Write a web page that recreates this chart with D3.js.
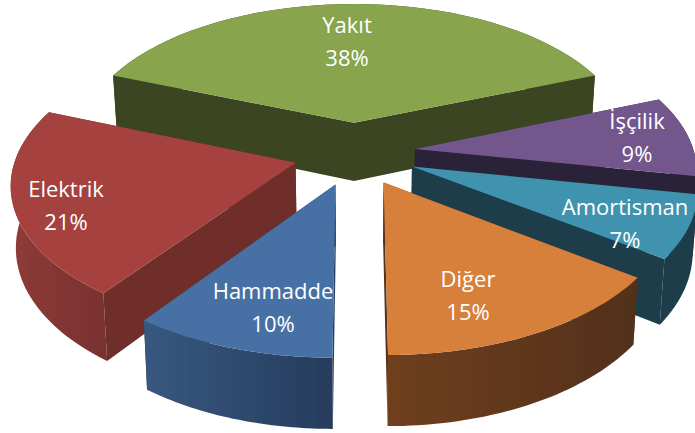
<!DOCTYPE html>
<html><head><meta charset="utf-8">
<style>html,body{margin:0;padding:0;background:#fff;overflow:hidden}svg{display:block}</style>
<script src="https://cdn.jsdelivr.net/npm/d3@7/dist/d3.min.js"></script>
</head><body><div id="chart"></div>
<script>
const categories = ["Yakıt","İşçilik","Amortisman","Diğer","Hammadde","Elektrik"];
const values = [38,9,7,15,10,21];
const topColors = ["#88a44d","#72568c","#3f93ae","#d7803a","#4671a5","#a5423f"];
const edgeColors = ["#3a4420","#2c2037","#1a3c49","#56331a","#2a4163","#6f2e2c"];
const rimStart = ["#3a4420","#2c2037","#1a3c49","#6f3f1f","#38587f","#8e3b38"];
const rimEnd = ["#3a4420","#2c2037","#1a3c49","#52301a","#253c5d","#79322f"];
const drawOrder = [0,1,2,5,3,4];
const labelAnchors = [[347,25],[637,121],[625,207],[468,279],[273,291],[66,189]];
const sliceNudge = [[-1,-1],[-1,-2],[0,0],[0,0],[0,0],[0,0]];

const W=695,H=433,cx=355,cy=154,explode=0.22,persp=0.131,drop=60,bottomShrink=0.985;
const xs=d3.scaleLinear().domain([0,1]).range([0,279]);
const ys=d3.scaleLinear().domain([0,1]).range([0,141.7]);
const startDeg=-(values[0]/100*360)/2;
const pie=d3.pie().sort(null).value(d=>d).startAngle(startDeg*Math.PI/180).endAngle((startDeg+360)*Math.PI/180);
const arcs=pie(values);

function topPt(o,r,a,n){
  const u=explode*Math.sin(o)+r*Math.sin(a);
  const v=-explode*Math.cos(o)-r*Math.cos(a);
  const w=1-persp*v;
  return {x:cx+xs(u)/w+n[0],y:cy+ys(v)/w+n[1],w};
}
const T=p=>[p.x,p.y];
const B=p=>[cx+(p.x-cx)*bottomShrink,p.y+drop/p.w];
const line=d3.line();
const svg=d3.select("#chart").append("svg").attr("width",W).attr("height",H);
const defs=svg.append("defs");
defs.append("filter").attr("id","soft").append("feGaussianBlur").attr("stdDeviation",0.5);
const shapes=svg.append("g").attr("filter","url(#soft)");

drawOrder.forEach(i=>{
  const d=arcs[i],mid=(d.startAngle+d.endAngle)/2,n=sliceNudge[i];
  const rim=d3.range(0,41).map(k=>topPt(mid,1,d.startAngle+(d.endAngle-d.startAngle)*k/40,n));
  const apex=topPt(mid,0,0,n);
  const g=shapes.append("g").attr("class","slice").attr("data-name",categories[i]);
  [rim[0],rim[40]].forEach(e=>{
    g.append("path").attr("d",line([T(apex),T(e),B(e),B(apex)])+"Z").attr("fill",edgeColors[i]);
  });
  const gid="rim"+i,xsExt=d3.extent(rim,p=>p.x);
  const gr=defs.append("linearGradient").attr("id",gid).attr("gradientUnits","userSpaceOnUse")
    .attr("x1",xsExt[0]).attr("x2",xsExt[1]).attr("y1",0).attr("y2",0);
  gr.append("stop").attr("offset",0).attr("stop-color",rimStart[i]);
  gr.append("stop").attr("offset",1).attr("stop-color",rimEnd[i]);
  g.append("path").attr("d",line(rim.map(T).concat(rim.slice().reverse().map(B)))+"Z").attr("fill",`url(#${gid})`);
  g.append("path").attr("d",line([T(apex)].concat(rim.map(T)))+"Z").attr("fill",topColors[i]);
});

categories.forEach((c,i)=>{
  const t=svg.append("text").attr("text-anchor","middle").attr("fill","#fff")
    .attr("font-family","'Open Sans', sans-serif").attr("font-size",22);
  t.append("tspan").attr("x",labelAnchors[i][0]).attr("y",labelAnchors[i][1]+8).text(c);
  t.append("tspan").attr("x",labelAnchors[i][0]).attr("y",labelAnchors[i][1]+41).text(values[i]+"%");
});
</script></body></html>
